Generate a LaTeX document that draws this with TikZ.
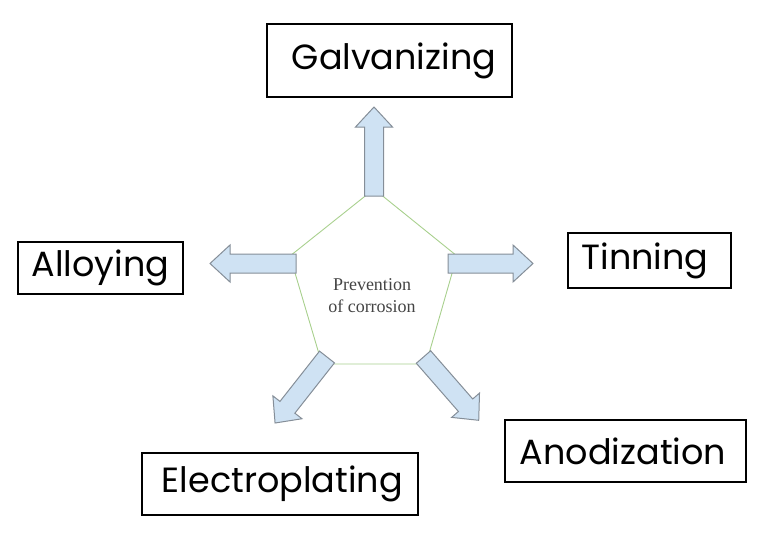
\documentclass[tikz,border=0pt]{standalone}
\usepackage{fontspec}
\setmainfont{Liberation Serif}
\newfontfamily\labelfont{Poppins}
\definecolor{arrowfill}{HTML}{CFE2F3}
\definecolor{arrowline}{HTML}{858E98}
\definecolor{pentgreen}{HTML}{A8D08D}
\definecolor{midgray}{HTML}{444444}
\begin{document}
\begin{tikzpicture}[x=1pt,y=-1pt,
  lbl/.style={draw=black, line width=1.6pt, inner sep=0pt,
    font=\labelfont\fontsize{35}{40}\selectfont},
  pics/barrow/.style={code={
    \draw[fill=arrowfill, draw=arrowline, line width=1pt, line join=miter]
      (0,-9.5) -- (#1-20,-9.5) -- (#1-20,-18.5) -- (#1,0) -- (#1-20,18.5)
      -- (#1-20,9.5) -- (0,9.5) -- cycle;}},
  pentline/.style={draw=pentgreen, line width=0.9pt}]
\useasboundingbox (0,0) rectangle (768,536);
% pentagon
\draw[pentline] (374,189) -- (457,256) -- (426,364) -- (322,364) -- (290,256) -- cycle;
\node[font=\fontsize{18}{22}\selectfont, text=midgray, align=center] (center) at (372,296) {Prevention\\of corrosion};
% block arrows
\pic[rotate=90] at (374,196) {barrow=89};
\pic[rotate=180] at (296,263.5) {barrow=86};
\pic[rotate=0] at (448,263.5) {barrow=85};
\pic[rotate=231.8] at (327,357) {barrow=84};
\pic[rotate=-48.9] at (423.5,357) {barrow=84};
% labels
\node[lbl, minimum width=245, minimum height=73] (galv) at (389.5,60.5) {\hspace*{9pt}Galvanizing};
\node[lbl, minimum width=165, minimum height=52] (alloy) at (100.5,268) {Alloying};
\node[lbl, minimum width=163, minimum height=55] (tin) at (649.5,260.5) {Tinning\hspace*{9pt}};
\node[lbl, minimum width=241, minimum height=62] (anod) at (625.5,451) {Anodization\hspace*{5pt}};
\node[lbl, minimum width=276, minimum height=62] (elec) at (280,484) {\hspace*{5pt}Electroplating};
\end{tikzpicture}
\end{document}
